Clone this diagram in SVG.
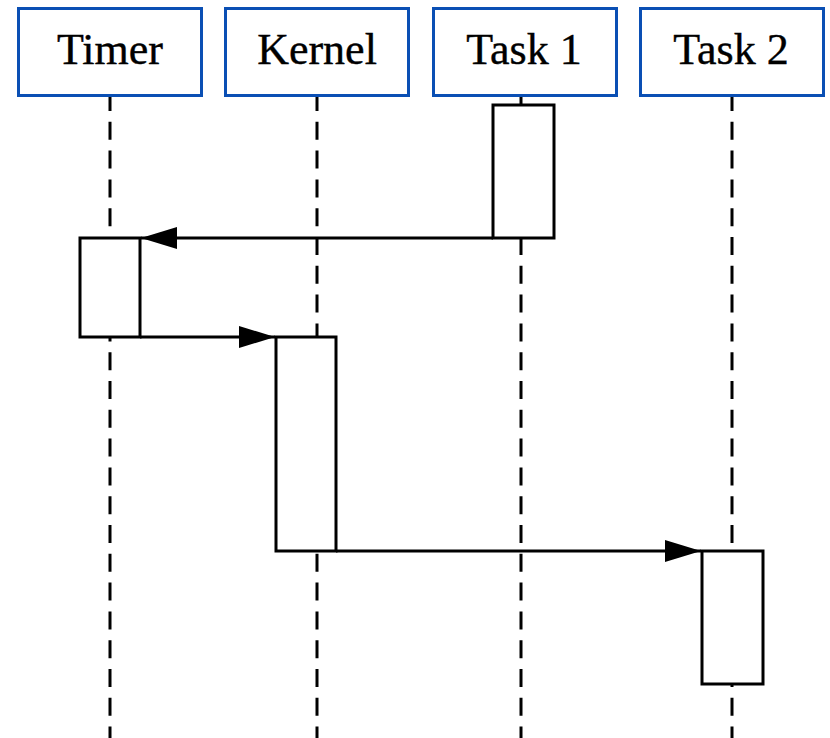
<svg xmlns="http://www.w3.org/2000/svg" width="830" height="738" viewBox="0 0 830 738">
  <style>
    .actor { fill: #ffffff; stroke: #0a4fb4; stroke-width: 3; }
    .label { font-family: "Liberation Serif", "DejaVu Serif", serif; font-size: 44px; fill: #000; text-anchor: middle; stroke: #000; stroke-width: 0.4; }
    .life { stroke: #000; stroke-width: 3; stroke-dasharray: 18 10.8; fill: none; }
    .act { fill: #ffffff; stroke: #000; stroke-width: 3; }
    .msg { stroke: #000; stroke-width: 3; fill: none; marker-end: url(#arrow); }
  </style>
  <defs>
    <marker id="arrow" markerUnits="userSpaceOnUse" markerWidth="36" markerHeight="22" refX="36" refY="11" orient="auto">
      <path d="M0,0 L36,11 L0,22 Z" fill="#000"/>
    </marker>
  </defs>

  <!-- lifelines -->
  <g id="lifelines">
    <line class="life" x1="110" y1="93" x2="110" y2="738"/>
    <line class="life" x1="317" y1="93" x2="317" y2="738"/>
    <line class="life" x1="521" y1="93" x2="521" y2="738"/>
    <line class="life" x1="732" y1="93" x2="732" y2="738"/>
  </g>

  <!-- participants -->
  <g id="timer">
    <rect class="actor" x="18.5" y="8.5" width="183" height="87"/>
    <text class="label" x="110" y="64">Timer</text>
  </g>
  <g id="kernel">
    <rect class="actor" x="225.5" y="8.5" width="183" height="87"/>
    <text class="label" x="317" y="64">Kernel</text>
  </g>
  <g id="task1">
    <rect class="actor" x="433.5" y="8.5" width="183" height="87"/>
    <text class="label" x="524" y="64">Task 1</text>
  </g>
  <g id="task2">
    <rect class="actor" x="640.5" y="8.5" width="183" height="87"/>
    <text class="label" x="731" y="64">Task 2</text>
  </g>

  <!-- activation bars -->
  <g id="task1-active"><rect class="act" x="493" y="105" width="61" height="133"/></g>
  <g id="timer-active"><rect class="act" x="80" y="238" width="60" height="99"/></g>
  <g id="kernel-active"><rect class="act" x="276" y="337" width="60" height="214"/></g>
  <g id="task2-active"><rect class="act" x="702" y="551" width="61" height="133"/></g>

  <!-- messages -->
  <g id="connectors">
    <line class="msg" x1="493" y1="238" x2="141" y2="238"/>
    <line class="msg" x1="140" y1="337" x2="275" y2="337"/>
    <line class="msg" x1="336" y1="551" x2="701" y2="551"/>
  </g>
</svg>
